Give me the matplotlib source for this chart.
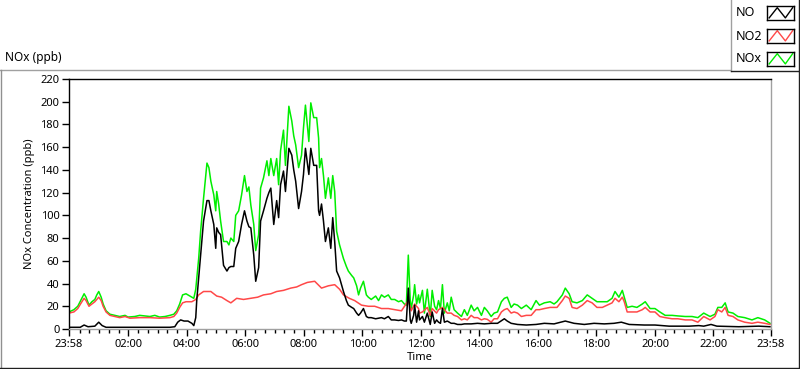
import matplotlib
matplotlib.use("Agg")
import matplotlib.pyplot as plt
from matplotlib.lines import Line2D

plt.rcParams['font.family'] = ['Noto Sans', 'DejaVu Sans']

# ---------------- data (minutes since 23:58, ppb) ----------------
t_nox = [0, 10, 18, 25, 31, 35, 41, 47, 53, 57, 61, 66, 70, 76, 84, 94, 104, 115, 121, 135, 145, 156, 166, 176, 186, 197, 207, 215, 221, 227, 233, 240,
         244, 252, 256, 260, 266, 270, 276, 283, 287, 291, 297, 301, 303, 307, 311, 317, 324, 328, 332, 338, 342, 348, 354, 360, 365, 369, 373, 379, 383, 389, 393, 399, 406, 410, 414, 420, 426, 430, 434, 440, 444, 451, 457, 461, 465, 471, 477,
         481, 485, 492, 496, 502, 508, 512, 514, 518, 522, 526, 532, 537, 541, 545, 549, 555, 563, 569, 573, 580, 584, 590, 594, 598, 604, 610, 614, 620, 629, 635, 641, 647, 655, 661, 668, 676, 682, 688, 692, 696, 700, 702, 707, 709, 713, 717,
         719, 725, 729, 735, 741, 745, 750, 754, 758, 762, 766, 770, 776, 780, 784, 790, 797, 805, 811, 817, 825, 831, 838, 846, 852, 858, 866, 872, 879, 887, 893, 899, 907, 913, 920, 928, 938, 948, 958,
         965, 975, 987, 995, 1001, 1012, 1018, 1026, 1032, 1042, 1053, 1063, 1073, 1083, 1094, 1104, 1114, 1120, 1128, 1135, 1139, 1145, 1155, 1165, 1176, 1182, 1192, 1202,
         1212, 1223, 1237, 1249, 1264, 1278, 1290, 1302, 1315, 1325, 1331, 1339, 1346, 1352, 1362, 1372, 1386, 1401, 1413, 1427, 1438]
nox = [15, 17, 20, 26, 31, 28, 21, 24, 26, 30, 33, 28, 22, 16, 13, 12, 11, 12, 10.5, 11, 12, 11.5, 11, 12, 10.5, 11, 12, 13, 16, 22, 30, 31,
       30, 28, 27, 35, 62, 86, 115, 146, 142, 130, 118, 104, 121, 110, 95, 77, 77, 74, 80, 77, 100, 104, 118, 135, 121, 125, 109, 92, 69, 83, 124, 133, 148, 135, 150, 135, 150, 127, 157, 175, 144, 196, 183, 170, 162, 142, 153,
       177, 197, 165, 199, 186, 186, 168, 142, 150, 135, 115, 133, 115, 135, 121, 86, 74, 62, 55, 51, 47, 45, 38, 30, 36, 42, 30, 28, 26, 29, 25, 30, 28, 30, 26, 26, 24, 25, 22, 21, 65, 25, 18, 30, 39, 22, 30,
       23, 34, 14, 35, 11, 34, 20, 17, 25, 18, 39, 14, 23, 16, 28, 17, 14, 11, 17, 12, 21, 16, 19, 12, 19, 16, 11, 14, 15, 24, 27, 28, 19, 22, 21, 18, 21, 17, 25,
       21, 23, 24, 22, 24, 30, 36, 31, 24, 23, 25, 30, 27, 24, 24, 24, 27, 33, 28, 34, 28, 19, 20, 19, 22, 24, 18, 18,
       15, 12, 12, 11.5, 11, 11, 10, 14, 11, 13, 19, 19, 23, 15, 14, 11, 10, 8, 10, 8, 5]

t_no = [0, 23, 31, 39, 53, 61, 68, 76, 125, 166, 207, 217, 223, 229, 236,
        244, 252, 256, 260, 262, 266, 270, 276, 283, 287, 291, 297, 301, 303, 307, 311, 317, 324, 328, 332, 338, 342, 348, 354, 360, 365, 369, 373, 379, 383, 389, 393, 399, 406, 410, 414, 420, 426, 430, 434, 440, 444, 451, 457, 461, 465, 471, 477,
        481, 485, 492, 496, 502, 508, 512, 514, 518, 522, 526, 532, 537, 541, 545, 549, 555, 563, 569, 573, 580, 584, 590, 594, 598, 604, 610, 614, 620, 629, 635, 641, 647, 655, 661, 668, 676, 682, 688, 692, 696, 700, 702, 707, 709, 713, 717,
        719, 725, 729, 735, 741, 745, 750, 754, 758, 762, 766, 770, 776, 784, 790, 797, 805, 811, 817, 825, 838, 852, 866, 879, 893, 899, 907, 920, 938, 958,
        975, 995, 1018, 1036, 1057, 1077, 1098, 1118, 1133, 1149, 1180, 1202,
        1231, 1272, 1292, 1302, 1317, 1329, 1374, 1415, 1438]
no = [1.5, 1.5, 3.5, 2, 2.5, 6, 3, 1.5, 1.5, 1.5, 1.5, 2, 6, 8, 7,
      7, 5, 3, 10, 25, 45, 65, 95, 113, 113, 104, 92, 71, 89, 85, 83, 56, 51, 54, 55, 55, 71, 77, 92, 104, 95, 90, 89, 65, 42, 54, 95, 104, 115, 120, 124, 92, 113, 98, 127, 139, 121, 159, 153, 140, 130, 106, 121,
      136, 159, 136, 159, 144, 144, 104, 100, 110, 95, 77, 89, 71, 98, 77, 51, 45, 33, 25, 21, 19, 18, 14, 12, 14, 18, 11, 10, 10, 9, 9.5, 10, 9, 11, 8, 8, 7.5, 8, 7, 7, 36, 8, 5, 12, 21, 6, 16,
      8, 11, 6, 14, 4, 15, 5, 8, 6, 5, 18, 6, 7, 5, 5, 4, 4, 4.5, 4.5, 4.5, 5, 4.5, 5, 5, 9, 7, 5, 4, 3.5, 4,
      5, 4.5, 7, 5, 4, 5, 4.5, 5, 6, 4, 3.5, 3.5,
      2.5, 2.5, 3, 2.5, 4, 2.5, 2, 2.5, 2]

t_no2 = [0, 10, 18, 25, 31, 35, 41, 47, 53, 61, 66, 70, 76, 84, 94, 104, 115, 125, 145, 166, 186, 207, 215, 221, 227, 233, 240,
         252, 260, 266, 276, 291, 303, 313, 324, 332, 344, 358, 373, 387, 399, 414, 426, 440, 455, 467, 477,
         489, 504, 518, 532, 545, 555, 563, 575, 586, 600, 614, 627, 641, 655, 668, 682, 696, 702, 709, 717,
         719, 725, 735, 741, 745, 754, 758, 766, 776, 784, 790, 797, 805, 811, 817, 825, 831, 838, 846, 852, 858, 866, 872, 879, 887, 893, 899, 907, 913, 920, 928, 938, 948, 958,
         965, 975, 987, 1001, 1012, 1018, 1026, 1032, 1042, 1053, 1063, 1073, 1083, 1094, 1104, 1114, 1120, 1128, 1135, 1139, 1145, 1155, 1165, 1176, 1182, 1192, 1202,
         1212, 1223, 1237, 1249, 1264, 1278, 1290, 1302, 1315, 1325, 1331, 1339, 1346, 1352, 1362, 1372, 1386, 1401, 1413, 1427, 1438]
no2 = [14, 15, 18, 23, 27, 25, 20, 22, 24, 28, 25, 20, 15, 12, 11, 10, 11, 9.5, 10, 10, 9.5, 10, 11, 14, 19, 23, 24,
       24, 26, 30, 33, 33, 29, 28, 25, 23, 27, 26, 27, 28, 30, 31, 33, 34, 36, 37, 39,
       41, 42, 36, 38, 39, 35, 30, 27, 25, 21, 20, 20, 18, 18, 17, 16, 25, 16, 22, 18,
       14, 15, 19, 12, 18, 14, 17, 19, 14, 14, 12, 11, 8, 9, 8, 12, 10, 10, 8, 9, 8.5, 6, 9, 9, 15, 17, 18, 14, 15, 14, 11, 12, 12, 17,
       17, 18, 19, 19, 25, 29, 27, 19, 18, 21, 25, 23, 19, 19, 21, 23, 27, 24, 28, 24, 15, 15, 15, 17, 19, 15, 15,
       11, 10, 9, 9, 8, 8, 6, 11, 8, 11, 17, 15, 19, 12, 11, 8, 6, 5, 6, 5, 4]

x_tick_labels = ["23:58", "02:00", "04:00", "06:00", "08:00", "10:00", "12:00",
                 "14:00", "16:00", "18:00", "20:00", "22:00", "23:58"]
y_ticks = [0, 20, 40, 60, 80, 100, 120, 140, 160, 180, 200, 220]
series_names = ["NO", "NO2", "NOx"]
series_colors = ["#000000", "#ff4848", "#00ee00"]

# ---------------- figure ----------------
W, H = 800, 369
fig = plt.figure(figsize=(W / 100, H / 100), dpi=100)


def fx(px):
    return px / W


def fy(py):
    return 1 - py / H


ax = fig.add_axes([fx(69), fy(329), fx(771) - fx(69), fy(79) - fy(329)])

ax.plot(t_nox, nox, color=series_colors[2], lw=1.1)
ax.plot(t_no2, no2, color=series_colors[1], lw=1.1)
ax.plot(t_no, no, color=series_colors[0], lw=1.1)

start = 23 * 60 + 58
xt = []
for i, lab in enumerate(x_tick_labels):
    h, m = map(int, lab.split(":"))
    v = (h * 60 + m - start) % 1440
    if i == len(x_tick_labels) - 1:
        v = 1440
    xt.append(v)
minor = [2 + 20 * k for k in range(1, 72) if k % 6 != 0]

ax.set_xlim(0, 1440)
ax.set_ylim(0, 220)
ax.set_xticks(xt)
ax.set_xticklabels(x_tick_labels)
ax.set_xticks(minor, minor=True)
ax.set_yticks(y_ticks)
ax.tick_params(axis='both', which='major', direction='out', length=5, width=1,
               labelsize=8, pad=2, color='black')
ax.tick_params(axis='x', which='minor', direction='out', length=3, width=1, color='black')

for s in ['top', 'left']:
    ax.spines[s].set_color('black')
    ax.spines[s].set_linewidth(1)
for s in ['bottom', 'right']:
    ax.spines[s].set_color('#a0a0a0')
    ax.spines[s].set_linewidth(1)

ax.set_xlabel("Time", fontsize=8, labelpad=2)
ax.set_ylabel("NOx Concentration (ppb)", fontsize=8, labelpad=4)

fig.text(fx(5), fy(58), "NOx (ppb)", fontsize=8.5, ha='left', va='center')

# outer frame
fig.add_artist(Line2D([fx(0), fx(730)], [fy(69.5), fy(69.5)], color='#a0a0a0', lw=1))
fig.add_artist(Line2D([fx(1), fx(1)], [fy(69.5), fy(367.5)], color='#909090', lw=1))
fig.add_artist(Line2D([fx(0), fx(798.5)], [fy(367.5), fy(367.5)], color='#202020', lw=1))
fig.add_artist(Line2D([fx(798.5), fx(798.5)], [fy(71), fy(367.5)], color='#202020', lw=1))
# legend box
fig.add_artist(Line2D([fx(730.5), fx(730.5)], [fy(0), fy(71)], color='#a0a0a0', lw=1))
fig.add_artist(Line2D([fx(730.5), fx(798.5)], [fy(71), fy(71)], color='#202020', lw=1))
fig.add_artist(Line2D([fx(798.5), fx(798.5)], [fy(0), fy(71)], color='#202020', lw=1))

legend_order = [0, 1, 2]
centers = [13, 36, 59]
for idx, cy in zip(legend_order, centers):
    fig.text(fx(736), fy(cy), series_names[idx], fontsize=9, ha='left', va='center')
    sax = fig.add_axes([fx(767), fy(cy + 7), fx(27), 14 / H])
    sax.set_xlim(0, 1)
    sax.set_ylim(0, 1)
    sax.set_xticks([])
    sax.set_yticks([])
    for s in sax.spines.values():
        s.set_color('black')
        s.set_linewidth(1)
    sax.plot([0.08, 0.38, 0.68, 0.95], [0.15, 0.88, 0.15, 0.88], color=series_colors[idx], lw=1)

fig.savefig("out.png", dpi=100)
